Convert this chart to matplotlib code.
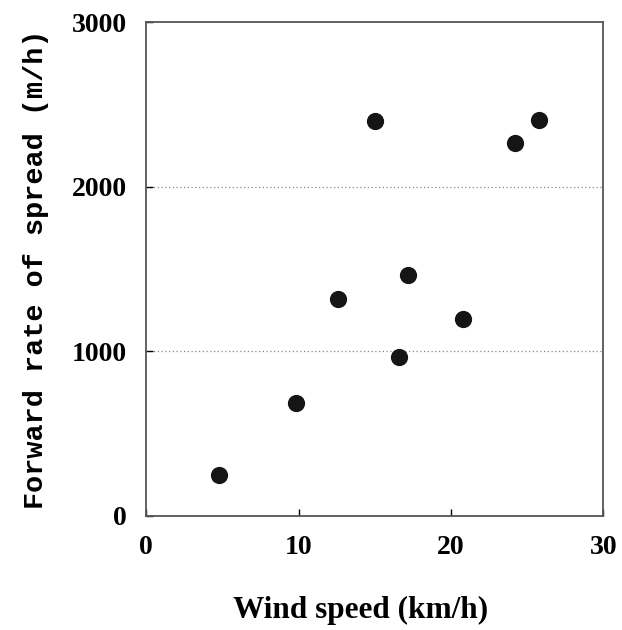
import matplotlib
matplotlib.use("Agg")
import matplotlib.pyplot as plt

plt.rc('font', family=['Liberation Serif', 'DejaVu Serif'])

# wind speed (km/h) and forward rate of spread (m/h)
wind_speed = [4.8, 9.8, 12.6, 15.0, 16.6, 17.2, 20.8, 24.2, 25.8]
spread_rate = [250, 685, 1315, 2400, 965, 1465, 1195, 2265, 2405]

x_ticks = [0, 10, 20, 30]
y_ticks = [0, 1000, 2000, 3000]

fig = plt.figure(figsize=(6.22, 6.30), dpi=100)
ax = fig.add_axes([0.235, 0.181, 0.735, 0.784])

ax.scatter(wind_speed, spread_rate, s=130, color='#151515', zorder=3)

ax.set_xlim(0, 30)
ax.set_ylim(0, 3000)
ax.set_xticks(x_ticks)
ax.set_yticks(y_ticks)

for y in y_ticks[1:-1]:
    ax.axhline(y, color='#888888', linestyle=(0, (1, 2)), linewidth=0.9, zorder=1)

ax.tick_params(direction='in', length=5, width=1, pad=14, labelsize=20)
for lbl in ax.get_xticklabels() + ax.get_yticklabels():
    lbl.set_fontweight('bold')

for s in ax.spines.values():
    s.set_color('#555555')
    s.set_linewidth(1.3)

mono = ['Liberation Mono', 'DejaVu Sans Mono']
ax.set_xlabel('Wind speed (km/h)', fontsize=22.5, fontweight='bold')
ax.xaxis.set_label_coords(0.468, -0.162)
ax.set_ylabel('Forward rate of spread (m/h)', fontsize=20.5, fontweight='bold',
              family=mono, labelpad=16)

fig.savefig('out.png', dpi=100)
